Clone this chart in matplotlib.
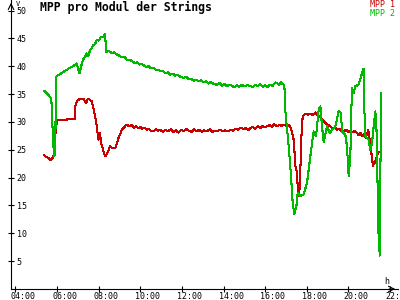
import matplotlib
matplotlib.use('Agg')
import matplotlib.pyplot as plt
from matplotlib.transforms import ScaledTranslation

# time of day in hours, MPP voltage per module in V
t_mpp1 = [5.38, 5.50, 5.59, 5.70, 5.80, 5.86, 5.91, 5.96, 5.99, 6.20, 6.39, 6.60, 6.84, 6.87,
          6.95, 7.03, 7.11, 7.20, 7.30, 7.35, 7.40, 7.45, 7.51, 7.58, 7.67, 7.75, 7.83, 7.91,
          7.99, 8.03, 8.07, 8.11, 8.15, 8.23, 8.31, 8.36, 8.42, 8.50, 8.55, 8.67, 8.79, 8.87,
          8.95, 9.04, 9.12, 9.20, 9.28, 9.36, 9.43, 9.51, 9.60, 9.70, 9.80, 9.90, 10.00, 10.10,
          10.20, 10.32, 10.42, 10.52, 10.63, 10.75, 10.85, 10.96, 11.08, 11.20, 11.33, 11.46,
          11.58, 11.70, 11.83, 11.96, 12.08, 12.20, 12.33, 12.46, 12.58, 12.70, 12.83, 12.96,
          13.08, 13.20, 13.33, 13.46, 13.58, 13.70, 13.83, 13.96, 14.08, 14.20, 14.33, 14.47,
          14.58, 14.70, 14.83, 14.96, 15.08, 15.20, 15.28, 15.40, 15.52, 15.64, 15.76, 15.88,
          16.00, 16.08, 16.20, 16.32, 16.44, 16.56, 16.68, 16.80, 16.88, 17.00, 17.13, 17.24,
          17.37, 17.45, 17.53, 17.58, 17.64, 17.69, 17.74, 17.80, 17.93, 18.05, 18.17, 18.30,
          18.41, 18.50, 18.57, 18.65, 18.73, 18.81, 18.89, 19.00, 19.13, 19.25, 19.35, 19.45,
          19.55, 19.65, 19.77, 19.90, 20.00, 20.09, 20.20, 20.30, 20.41, 20.50, 20.58, 20.65,
          20.75, 20.82, 20.89, 20.95, 21.02, 21.10, 21.18, 21.25, 21.29, 21.38, 21.45, 21.53]
v_mpp1 = [24.0, 23.7, 23.5, 23.1, 23.6, 24.1, 27.7, 28.6, 30.4, 30.4, 30.4, 30.5, 30.5, 32.8,
          33.7, 34.0, 34.1, 34.2, 34.1, 33.6, 33.4, 34.0, 34.2, 33.9, 33.7, 32.5, 31.0, 29.2,
          26.8, 28.0, 28.0, 26.2, 25.9, 24.8, 23.8, 24.1, 24.4, 25.2, 25.6, 25.3, 25.3, 26.0,
          27.1, 27.9, 28.6, 28.9, 29.3, 29.5, 29.3, 29.2, 29.5, 29.0, 29.3, 28.9, 29.1, 28.8,
          29.0, 28.6, 28.8, 28.3, 28.3, 28.7, 28.4, 28.6, 28.2, 28.6, 28.3, 28.7,
          28.2, 28.5, 28.1, 28.6, 28.3, 28.8, 28.4, 28.2, 28.7, 28.3, 28.6, 28.2,
          28.5, 28.3, 28.7, 28.2, 28.4, 28.3, 28.6, 28.3, 28.5, 28.3, 28.6, 28.4,
          28.8, 28.6, 29.0, 28.7, 28.9, 28.6, 28.9, 29.1, 28.8, 29.2, 28.9, 29.3,
          29.0, 29.2, 29.5, 29.1, 29.6, 29.2, 29.5, 29.3, 29.5, 29.3, 29.5, 28.9,
          26.8, 22.1, 20.9, 16.7, 17.3, 21.5, 27.4, 31.0, 31.5, 31.3, 31.5, 31.2,
          31.7, 31.3, 31.0, 30.8, 30.4, 30.1, 29.8, 29.5, 29.2, 28.8, 29.0, 28.6,
          28.8, 28.3, 28.3, 28.6, 28.2, 28.3, 28.1, 28.4, 28.0, 27.6, 28.0, 27.4,
          27.8, 27.2, 27.7, 28.5, 26.8, 24.5, 22.1, 22.9, 22.7, 24.2, 24.5, 24.7]

t_mpp2 = [5.38, 5.55, 5.70, 5.75, 5.75, 5.80, 5.83, 5.86, 5.92, 5.94, 6.00, 6.15, 6.30, 6.45,
          6.60, 6.75, 6.90, 6.95, 7.02, 7.08, 7.16, 7.24, 7.33, 7.43, 7.50, 7.59, 7.67, 7.75,
          7.83, 7.91, 8.00, 8.08, 8.15, 8.22, 8.31, 8.36, 8.50, 8.62, 8.75, 8.88, 9.00, 9.12,
          9.24, 9.36, 9.48, 9.60, 9.72, 9.84, 9.96, 10.08, 10.15, 10.28, 10.40, 10.52, 10.64,
          10.76, 10.88, 10.96, 11.08, 11.20, 11.32, 11.44, 11.56, 11.68, 11.80, 11.92, 12.08,
          12.20, 12.32, 12.44, 12.56, 12.68, 12.80, 12.92, 13.04, 13.16, 13.28, 13.40, 13.52,
          13.68, 13.80, 13.92, 14.04, 14.16, 14.28, 14.40, 14.52, 14.64, 14.76, 14.88, 15.00,
          15.12, 15.28, 15.40, 15.52, 15.64, 15.76, 15.88, 16.00, 16.12, 16.24, 16.36, 16.48,
          16.57, 16.66, 16.75, 16.82, 16.92, 16.97, 17.13, 17.24, 17.32, 17.40, 17.50, 17.56,
          17.69, 17.85, 18.01, 18.13, 18.25, 18.33, 18.44, 18.57, 18.65, 18.73, 18.81, 18.97,
          19.10, 19.21, 19.37, 19.53, 19.64, 19.69, 19.85, 19.93, 20.01, 20.09, 20.14, 20.17,
          20.25, 20.33, 20.49, 20.61, 20.70, 20.73, 20.77, 20.82, 20.97, 21.05, 21.13, 21.21,
          21.29, 21.34, 21.40, 21.45, 21.49, 21.50, 21.53, 21.58]
v_mpp2 = [35.6, 35.0, 34.3, 33.0, 29.2, 29.0, 25.6, 23.8, 24.3, 37.9, 38.3, 38.6, 39.0, 39.3,
          39.7, 40.0, 40.3, 40.5, 39.4, 38.8, 40.0, 41.1, 41.6, 42.3, 41.9, 42.9, 43.3, 43.8,
          44.0, 44.7, 44.6, 45.1, 45.3, 45.2, 45.8, 42.6, 42.7, 42.4, 42.5, 42.1, 41.9, 41.6,
          41.7, 41.1, 41.2, 40.9, 40.6, 40.7, 40.3, 40.4, 40.2, 39.9, 40.0, 39.6, 39.7,
          39.3, 39.4, 39.1, 39.2, 38.8, 38.9, 38.5, 38.7, 38.3, 38.5, 38.1, 37.9,
          38.1, 37.7, 37.8, 37.4, 37.6, 37.3, 37.5, 37.1, 37.3, 36.9, 37.2, 36.8,
          36.7, 37.0, 36.5, 36.8, 36.4, 36.7, 36.5, 36.2, 36.6, 36.3, 36.7, 36.4,
          36.6, 36.5, 36.2, 36.7, 36.4, 36.8, 36.3, 36.6, 36.3, 36.7, 36.5, 37.1,
          37.0, 36.6, 37.2, 36.8, 36.7, 31.9, 25.6, 20.3, 15.5, 13.4, 14.9, 17.3,
          16.7, 17.0, 19.1, 22.7, 26.2, 28.3, 27.4, 32.2, 32.8, 29.2, 26.4, 29.2,
          28.0, 28.6, 29.2, 31.9, 31.6, 28.3, 27.7, 25.6, 20.3, 23.8, 32.2, 36.1,
          35.2, 36.4, 36.7, 38.2, 39.4, 39.5, 31.6, 27.4, 26.8, 25.0, 26.2, 29.2,
          31.9, 29.8, 18.5, 8.9, 6.9, 6.0, 20.3, 35.2]

x_ticks = [4, 6, 8, 10, 12, 14, 16, 18, 20, 22]
x_labels = ['04:00', '06:00', '08:00', '10:00', '12:00', '14:00', '16:00', '18:00', '20:00', '22:00']
y_ticks = [5, 10, 15, 20, 25, 30, 35, 40, 45, 50]

red = '#c80000'
green = '#00b800'
mono = 'DejaVu Sans Mono'

fig = plt.figure(figsize=(4, 3), dpi=100)
fig.patch.set_facecolor('white')
ax = fig.add_axes([11/400, 11/300, 387/400, 289/300])

ax.plot(t_mpp1, v_mpp1, color=red, lw=0.75, antialiased=False)
ax.plot(t_mpp2, v_mpp2, color=green, lw=0.75, antialiased=False)

ax.set_xlim(3.79, 22.38)
ax.set_ylim(0, 51.9)

for s in ['top', 'right']:
    ax.spines[s].set_visible(False)
for s in ['left', 'bottom']:
    ax.spines[s].set_linewidth(0.8)

ax.set_xticks(x_ticks)
ax.set_xticklabels(x_labels, fontsize=6, family=mono)
ax.set_yticks(y_ticks)
ax.set_yticklabels([str(y) for y in y_ticks], fontsize=6, family=mono)
ax.tick_params(direction='inout', length=4, width=0.8, pad=0)

# labels sit to the right of their ticks
for lbl in ax.get_xticklabels():
    lbl.set_ha('left')
    lbl.set_transform(lbl.get_transform() + ScaledTranslation(-0.05, 0, fig.dpi_scale_trans))
for lbl in ax.get_yticklabels():
    lbl.set_ha('left')
    lbl.set_transform(lbl.get_transform() + ScaledTranslation(0.085, 0, fig.dpi_scale_trans))

# arrow heads on the axes
ax.annotate('', xy=(0, 1.0), xytext=(0, 0.97), xycoords='axes fraction',
            arrowprops=dict(arrowstyle='->,head_length=0.4,head_width=0.2', lw=0.8, color='black'))
ax.annotate('', xy=(1.0, 0), xytext=(0.97, 0), xycoords='axes fraction',
            arrowprops=dict(arrowstyle='->,head_length=0.4,head_width=0.2', lw=0.8, color='black'))

fig.text(16/400, 1 - 3.5/300, 'V', fontsize=5, family=mono, ha='left', va='center')
fig.text(384/400, 1 - 281/300, 'h', fontsize=6, family=mono, ha='left', va='center')

fig.text(40/400, 1 - 7.5/300, 'MPP pro Modul der Strings', fontsize=8.3, family=mono,
         fontweight='bold', ha='left', va='center')
fig.text(370/400, 1 - 4.5/300, 'MPP 1', fontsize=6, family=mono, color=red, ha='left', va='center')
fig.text(370/400, 1 - 13/300, 'MPP 2', fontsize=6, family=mono, color=green, ha='left', va='center')

fig.savefig('out.png', dpi=100, facecolor='white')
